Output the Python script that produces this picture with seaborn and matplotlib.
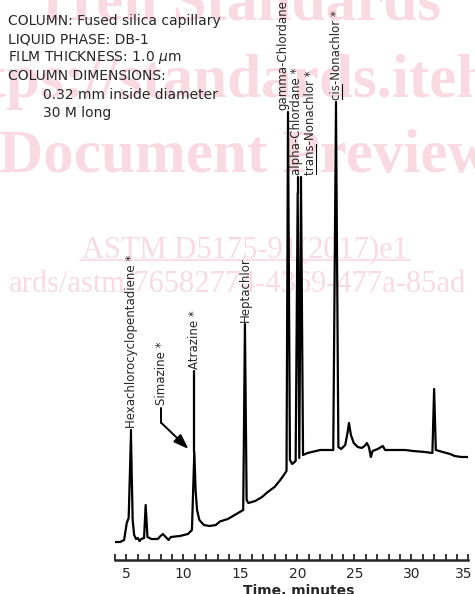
import matplotlib.pyplot as plt
import matplotlib.lines as mlines
import pandas as pd
import seaborn as sns

# chromatogram trace (time in minutes, response in arbitrary units)
time_min = [4.0, 4.45, 4.8, 5.03, 5.2, 5.4, 5.55, 5.68, 5.85, 6.0, 6.15, 6.3, 6.55, 6.69, 6.85,
            7.2, 7.75, 8.0, 8.2, 8.45, 8.7, 8.9, 9.7, 10.4, 10.75, 10.96, 11.07, 11.2, 11.4,
            11.8, 12.3, 12.85, 13.2, 13.9, 14.35, 14.8, 15.25, 15.4, 15.55, 15.7, 16.3, 16.9,
            17.4, 18.0, 18.5, 18.75, 19.05, 19.18, 19.35, 19.55, 19.85, 20.03, 20.17, 20.32,
            20.5, 20.9, 22.0, 23.15, 23.39, 23.6, 23.85, 24.2, 24.4, 24.53, 24.7, 24.95, 25.3,
            25.65, 25.9, 26.1, 26.28, 26.45, 26.6, 27.05, 27.5, 27.7, 28.55, 29.45, 30.15,
            31.2, 31.85, 32.0, 32.15, 32.75, 33.4, 33.8, 34.4, 35.1]
response = [3.6, 3.6, 4.0, 7.4, 8.4, 25.0, 8.0, 5.0, 4.2, 4.4, 3.8, 4.2, 4.4, 11.0, 4.6,
            4.2, 4.2, 4.8, 5.2, 4.6, 4.0, 4.6, 4.8, 5.2, 6.0, 21.6, 14.0, 10.0, 8.0,
            7.0, 6.8, 7.0, 7.7, 8.2, 8.8, 9.4, 10.0, 47.0, 12.0, 11.4, 11.8, 12.6,
            13.6, 14.6, 16.0, 16.8, 17.8, 88.6, 20.0, 19.2, 19.8, 73.4, 20.4, 75.6,
            21.0, 21.4, 22.0, 22.0, 90.6, 22.6, 22.2, 23.0, 25.4, 27.4, 25.0, 23.4, 22.6,
            22.4, 22.8, 23.4, 22.6, 20.6, 21.8, 22.2, 22.8, 22.0, 22.0, 22.0, 21.8,
            21.6, 21.4, 34.2, 22.0, 21.6, 21.2, 20.8, 20.6, 20.6]

# peak labels
peak_names = ["Hexachlorocyclopentadiene *", "Atrazine *", "Heptachlor", "gamma-Chlordane",
              "alpha-Chlordane *", "trans-Nonachlor *", "cis-Nonachlor *"]
peak_time = [5.4, 10.96, 15.4, 19.18, 20.03, 20.32, 23.39]
peak_top = [25.0, 21.6, 47.0, 88.6, 73.4, 75.6, 90.6]
label_time = [5.45, 10.96, 15.4, 18.76, 19.96, 21.19, 23.45]
label_base = [26.4, 38.2, 47.6, 90.0, 77.0, 77.0, 92.0]
underlined = {"trans-Nonachlor *": "trans", "cis-Nonachlor *": "cis"}

tick_minutes = [5, 10, 15, 20, 25, 30, 35]

header = ["COLUMN: Fused silica capillary", "LIQUID PHASE: DB-1", r"FILM THICKNESS: 1.0 $\mu$m",
          "COLUMN DIMENSIONS:", "0.32 mm inside diameter", "30 M long"]

df = pd.DataFrame({"time": time_min, "response": response})

sns.set_style("white")
plt.rcParams["font.family"] = ["DejaVu Sans"]
plt.rcParams["mathtext.fontset"] = "dejavusans"

W, H = 475, 594
fig = plt.figure(figsize=(W / 100, H / 100), dpi=100)
ax = fig.add_axes([115 / W, 34 / H, (468.3 - 115) / W, 560 / H])
ax.patch.set_visible(False)

# watermark behind the chart
pink = "#f9dae2"
wm = dict(family=["Liberation Serif", "DejaVu Serif"], color=pink, ha="center", va="baseline", zorder=-5)
fig.text(243 / W, 1 - 20 / H, "iTeh Standards", fontsize=44, weight="bold", **wm)
fig.text(243 / W, 1 - 97 / H, "(https://standards.iteh.ai)", fontsize=44, weight="bold", **wm)
fig.text(245 / W, 1 - 172 / H, "Document Preview", fontsize=44, weight="bold", **wm)
fig.text(245 / W, 1 - 257 / H, "ASTM D5175-91(2017)e1", fontsize=22, **wm)
fig.text(237 / W, 1 - 292 / H, "ards/astm/76582774-4369-477a-85ad", fontsize=22, **wm)
fig.add_artist(mlines.Line2D([80 / W, 410 / W], [1 - 260 / H, 1 - 260 / H], color=pink, lw=1.2,
                             zorder=-5, transform=fig.transFigure))

sns.lineplot(data=df, x="time", y="response", sort=False, color="black", lw=1.6, ax=ax)

for name, pt, top, lt, lb in zip(peak_names, peak_time, peak_top, label_time, label_base):
    ax.plot([pt, pt], [top, lb - 0.3], color="black", lw=1.6)
    ax.text(lt, lb, name, rotation=90, ha="center", va="bottom", fontsize=8.5)

# Simazine co-elutes with atrazine: label with an arrow
ax.text(8.1, 31.0, "Simazine *", rotation=90, ha="center", va="bottom", fontsize=8.5)
ax.plot([8.08, 8.08], [30.4, 27.4], color="black", lw=1.4)
ax.annotate("", xy=(10.45, 22.2), xytext=(8.08, 27.4),
            arrowprops=dict(arrowstyle="-|>,head_length=0.9,head_width=0.32", color="black", lw=1.4,
                            shrinkA=0, shrinkB=0))

ax.set_xlim(4, 35)
ax.set_ylim(0, 112)
ax.set_xticks(tick_minutes)
ax.set_xticklabels([str(m) for m in tick_minutes[:-1]] + [""])
ax.set_xticks(range(4, 36), minor=True)
ax.set_yticks([])
ax.tick_params(axis="x", which="both", direction="in", length=4, width=1.3, labelsize=10, pad=5,
               bottom=True)
# last label nudged left so it stays inside the picture
ax.annotate(str(tick_minutes[-1]), xy=(tick_minutes[-1], 0), xycoords=("data", "axes fraction"),
            xytext=(-3, -5), textcoords="offset points", ha="center", va="top", fontsize=10)
ax.set_xlabel("Time, minutes", fontsize=10, weight="bold", labelpad=2)
ax.xaxis.label.set_x(0.521)
ax.set_ylabel("")
sns.despine(ax=ax, left=True)
ax.spines["bottom"].set_linewidth(1.8)

# header block
for i, line in enumerate(header):
    x = 8 if i < 4 else 43
    fig.text(x / W, 1 - (21 + 18.5 * i) / H, line, fontsize=10, va="center", ha="left")

# underline the trans/cis prefixes
fig.canvas.draw()
rend = fig.canvas.get_renderer()
for t in ax.texts:
    word = underlined.get(t.get_text())
    if word is None:
        continue
    bb = t.get_window_extent(rend)
    tmp = ax.text(0, 0, word, fontsize=8.5)
    wlen = tmp.get_window_extent(rend).width
    tmp.remove()
    xl = bb.x1 - 1.5
    fig.add_artist(mlines.Line2D([xl / W, xl / W], [(bb.y0 + 1) / H, (bb.y0 + wlen) / H],
                                 color="black", lw=0.8, transform=fig.transFigure))

fig.savefig("out.png", dpi=100)
